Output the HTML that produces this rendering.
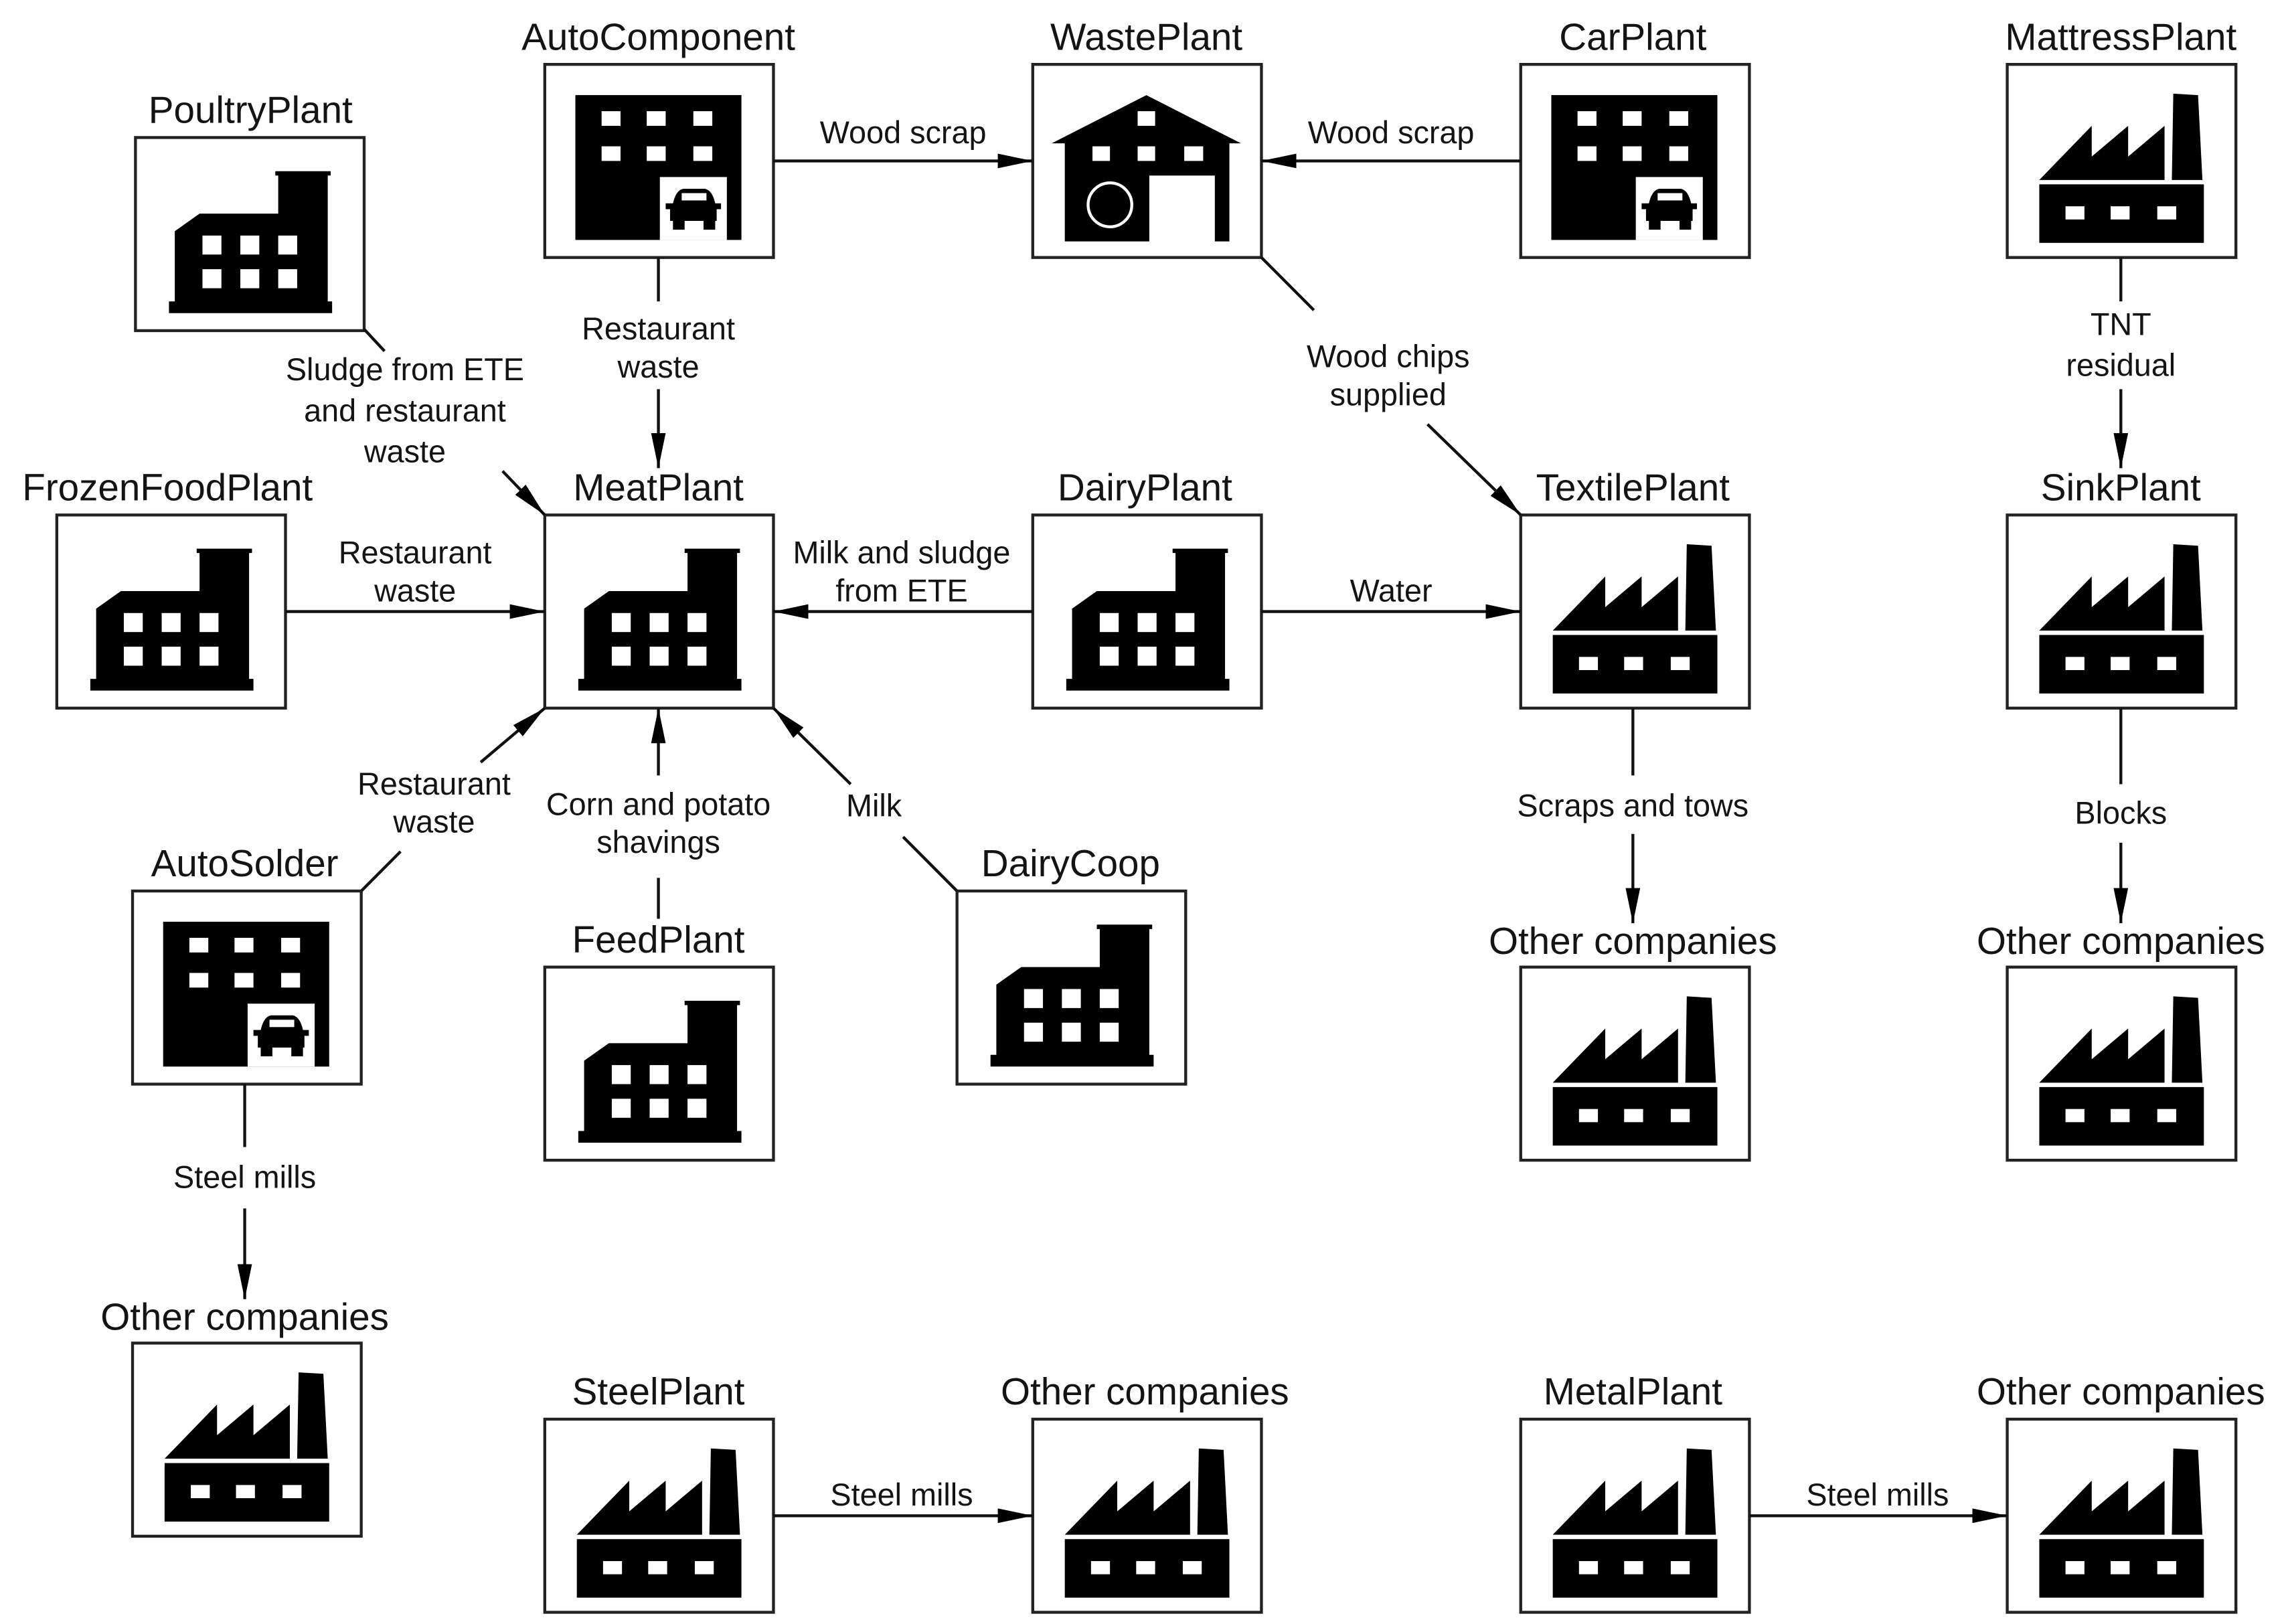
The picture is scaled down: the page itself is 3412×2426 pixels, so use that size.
<!DOCTYPE html>
<html><head><meta charset="utf-8"><style>
html,body{margin:0;padding:0;background:#fff;}
svg{display:block;}
text{font-family:"Liberation Sans",Arial,sans-serif;fill:#141414;text-anchor:middle;}
.n{font-size:26px;}
.e{font-size:21.5px;}
</style></head><body>
<svg width="3412" height="2426" viewBox="0 0 1568 1110" preserveAspectRatio="none" xmlns="http://www.w3.org/2000/svg">
<defs>
<marker id="ar" viewBox="0 0 24 10" refX="24" refY="5" markerWidth="24" markerHeight="10" markerUnits="userSpaceOnUse" orient="auto">
<path d="M0,0 L24,5 L0,10 Z" fill="#000"/>
</marker>
<g id="box"><rect x="0" y="0" width="157" height="132" fill="#fff" stroke="#222" stroke-width="2"/></g>
<g id="office">
<use href="#box"/>
<rect x="21" y="21" width="114" height="99" fill="#000"/>
<g fill="#fff">
<rect x="39" y="32" width="13" height="10"/><rect x="70" y="32" width="13" height="10"/><rect x="102" y="32" width="13" height="10"/>
<rect x="39" y="56" width="13" height="10"/><rect x="70" y="56" width="13" height="10"/><rect x="102" y="56" width="13" height="10"/>
<rect x="79" y="77" width="46" height="43"/>
</g>
<g fill="#000">
<path d="M88,95 Q90,86 95,85 L110,85 Q115,86 117,95 L121,95 L121,99 L118,99 L118,107 L86,107 L86,99 L83,99 L83,95 Z"/>
<rect x="88" y="105" width="8" height="8"/><rect x="109" y="105" width="8" height="8"/>
</g>
<rect x="94" y="88" width="17" height="5" fill="#fff"/>
</g>
<g id="bldg">
<use href="#box"/>
<path d="M27,64 L44,52 L98,52 L98,26 L96,26 L96,23 L134,23 L134,26 L132,26 L132,112 L135,112 L135,120 L23,120 L23,112 L27,112 Z" fill="#000"/>
<g fill="#fff">
<rect x="46" y="67" width="13" height="13"/><rect x="72" y="67" width="13" height="13"/><rect x="98" y="67" width="13" height="13"/>
<rect x="46" y="90" width="13" height="13"/><rect x="72" y="90" width="13" height="13"/><rect x="98" y="90" width="13" height="13"/>
</g>
</g>
<g id="factory">
<use href="#box"/>
<path d="M22,79 L58,42 L58,63 L83,42 L83,63 L108,42 L108,79 Z" fill="#000"/>
<path d="M113,79 L114,20 L131,21 L134,79 Z" fill="#000"/>
<rect x="22" y="82" width="113" height="40" fill="#000"/>
<g fill="#fff"><rect x="40" y="97" width="13" height="9"/><rect x="71" y="97" width="13" height="9"/><rect x="103" y="97" width="13" height="9"/></g>
</g>
<g id="waste">
<use href="#box"/>
<path d="M13,54 L78,21 L143,54 L135,54 L135,121 L22,121 L22,54 Z" fill="#000"/>
<g fill="#fff">
<rect x="72" y="32" width="12" height="10"/>
<rect x="41" y="56" width="12" height="10"/><rect x="72" y="56" width="12" height="10"/><rect x="104" y="56" width="13" height="10"/>
<rect x="80" y="76" width="45" height="46"/>
</g>
<circle cx="53" cy="96" r="15" fill="none" stroke="#fff" stroke-width="2"/>
</g>
</defs>

<use href="#bldg" x="93" y="94"/><text class="n" x="172" y="84">PoultryPlant</text>
<use href="#office" x="374" y="44"/><text class="n" x="452" y="34">AutoComponent</text>
<use href="#waste" x="709" y="44"/><text class="n" x="787" y="34">WastePlant</text>
<use href="#office" x="1044" y="44"/><text class="n" x="1121" y="34">CarPlant</text>
<use href="#factory" x="1378" y="44"/><text class="n" x="1456" y="34">MattressPlant</text>

<use href="#bldg" x="39" y="352"/><text class="n" x="115" y="342">FrozenFoodPlant</text>
<use href="#bldg" x="374" y="352"/><text class="n" x="452" y="342">MeatPlant</text>
<use href="#bldg" x="709" y="352"/><text class="n" x="786" y="342">DairyPlant</text>
<use href="#factory" x="1044" y="352"/><text class="n" x="1121" y="342">TextilePlant</text>
<use href="#factory" x="1378" y="352"/><text class="n" x="1456" y="342">SinkPlant</text>

<use href="#office" x="91" y="609"/><text class="n" x="168" y="599">AutoSolder</text>
<use href="#bldg" x="374" y="661"/><text class="n" x="452" y="651">FeedPlant</text>
<use href="#bldg" x="657" y="609"/><text class="n" x="735" y="599">DairyCoop</text>
<use href="#factory" x="1044" y="661"/><text class="n" x="1121" y="652">Other companies</text>
<use href="#factory" x="1378" y="661"/><text class="n" x="1456" y="652">Other companies</text>

<use href="#factory" x="91" y="918"/><text class="n" x="168" y="909">Other companies</text>
<use href="#factory" x="374" y="970"/><text class="n" x="452" y="960">SteelPlant</text>
<use href="#factory" x="709" y="970"/><text class="n" x="786" y="960">Other companies</text>
<use href="#factory" x="1044" y="970"/><text class="n" x="1121" y="960">MetalPlant</text>
<use href="#factory" x="1378" y="970"/><text class="n" x="1456" y="960">Other companies</text>

<g stroke="#111" stroke-width="2" fill="none">
<line x1="531" y1="110" x2="709" y2="110" marker-end="url(#ar)"/>
<line x1="1044" y1="110" x2="866" y2="110" marker-end="url(#ar)"/>
<line x1="452" y1="176" x2="452" y2="206"/>
<line x1="452" y1="266" x2="452" y2="320" marker-end="url(#ar)"/>
<line x1="250" y1="225" x2="264" y2="240"/>
<line x1="345" y1="322" x2="374" y2="352" marker-end="url(#ar)"/>
<line x1="866" y1="176" x2="902" y2="212"/>
<line x1="980" y1="290" x2="1044" y2="352" marker-end="url(#ar)"/>
<line x1="1456" y1="176" x2="1456" y2="206"/>
<line x1="1456" y1="266" x2="1456" y2="320" marker-end="url(#ar)"/>
<line x1="196" y1="418" x2="374" y2="418" marker-end="url(#ar)"/>
<line x1="709" y1="418" x2="531" y2="418" marker-end="url(#ar)"/>
<line x1="866" y1="418" x2="1044" y2="418" marker-end="url(#ar)"/>
<line x1="248" y1="609" x2="275" y2="582"/>
<line x1="330" y1="521" x2="374" y2="484" marker-end="url(#ar)"/>
<line x1="452" y1="628" x2="452" y2="600"/>
<line x1="452" y1="530" x2="452" y2="484" marker-end="url(#ar)"/>
<line x1="657" y1="609" x2="620" y2="572"/>
<line x1="584" y1="536" x2="531" y2="484" marker-end="url(#ar)"/>
<line x1="1121" y1="484" x2="1121" y2="530"/>
<line x1="1121" y1="570" x2="1121" y2="631" marker-end="url(#ar)"/>
<line x1="1456" y1="484" x2="1456" y2="536"/>
<line x1="1456" y1="576" x2="1456" y2="631" marker-end="url(#ar)"/>
<line x1="168" y1="741" x2="168" y2="784"/>
<line x1="168" y1="826" x2="168" y2="888" marker-end="url(#ar)"/>
<line x1="531" y1="1036" x2="709" y2="1036" marker-end="url(#ar)"/>
<line x1="1201" y1="1036" x2="1378" y2="1036" marker-end="url(#ar)"/>
</g>

<text class="e" x="620" y="98">Wood scrap</text>
<text class="e" x="955" y="98">Wood scrap</text>
<text class="e" x="452" y="232">Restaurant</text><text class="e" x="452" y="258">waste</text>
<text class="e" x="278" y="260">Sludge from ETE</text><text class="e" x="278" y="288">and restaurant</text><text class="e" x="278" y="316">waste</text>
<text class="e" x="953" y="251">Wood chips</text><text class="e" x="953" y="277">supplied</text>
<text class="e" x="1456" y="229">TNT</text><text class="e" x="1456" y="257">residual</text>
<text class="e" x="285" y="385">Restaurant</text><text class="e" x="285" y="411">waste</text>
<text class="e" x="619" y="385">Milk and sludge</text><text class="e" x="619" y="411">from ETE</text>
<text class="e" x="955" y="411">Water</text>
<text class="e" x="298" y="543">Restaurant</text><text class="e" x="298" y="569">waste</text>
<text class="e" x="452" y="557">Corn and potato</text><text class="e" x="452" y="583">shavings</text>
<text class="e" x="600" y="558">Milk</text>
<text class="e" x="1121" y="558">Scraps and tows</text>
<text class="e" x="1456" y="563">Blocks</text>
<text class="e" x="168" y="812">Steel mills</text>
<text class="e" x="619" y="1029">Steel mills</text>
<text class="e" x="1289" y="1029">Steel mills</text>
</svg>
</body></html>
